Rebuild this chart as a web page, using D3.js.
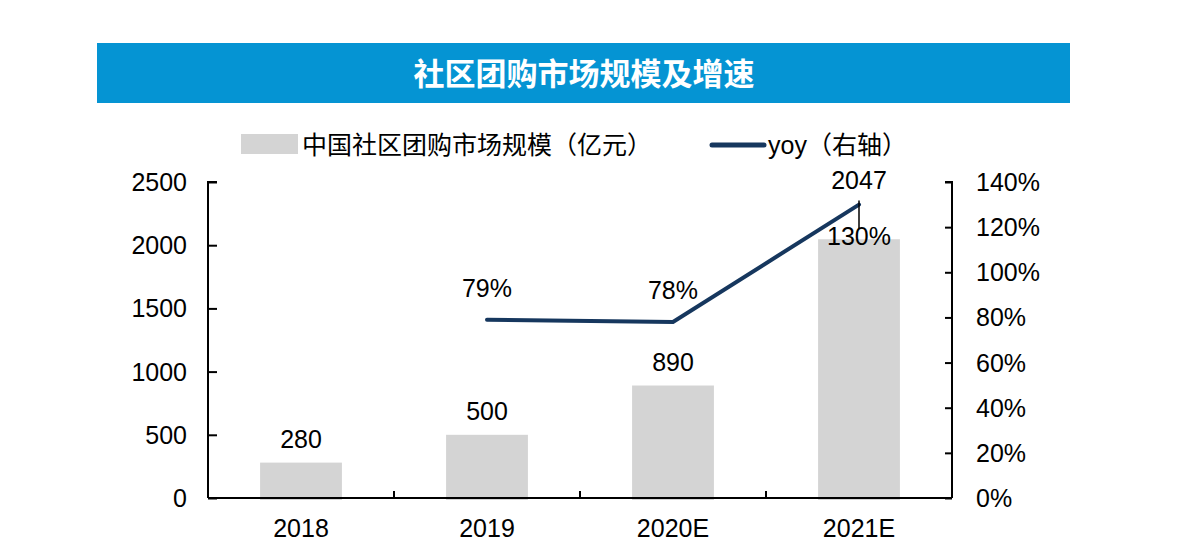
<!DOCTYPE html>
<html>
<head>
<meta charset="utf-8">
<script src="https://cdn.jsdelivr.net/npm/d3@7"></script>
<style>
  body { margin: 0; background: #fff; }
  svg text { font-family: "Liberation Sans", Arial, "Noto Sans CJK SC", sans-serif; fill: #000; }
</style>
</head>
<body>
<div id="chart"></div>
<script>
// Chart data
const years = ['2018', '2019', '2020E', '2021E'];
const marketSize = [280, 500, 890, 2047];          // 亿元
const yoy = [null, 0.79, 0.78, 1.30];              // right axis
const leftTicks = [0, 500, 1000, 1500, 2000, 2500];
const rightTicks = [0, 0.2, 0.4, 0.6, 0.8, 1.0, 1.2, 1.4];

const width = 1178, height = 555;
const margin = { left: 208, right: 226, top: 182, bottom: 57 };
const x0 = margin.left, x1 = width - margin.right;
const yTop = margin.top, yBot = height - margin.bottom;

const svg = d3.select('#chart')
    .append('svg')
    .attr('width', width)
    .attr('height', height);

// Title banner
svg.append('rect')
    .attr('x', 97).attr('y', 43)
    .attr('width', 973).attr('height', 60)
    .attr('fill', '#0594d3');
svg.append('text')
    .attr('x', 584).attr('y', 85)
    .attr('text-anchor', 'middle')
    .style('font-family', '"Noto Sans CJK SC", sans-serif')
    .style('font-size', '31px')
    .style('font-weight', 'bold')
    .style('fill', '#fff')
    .text('社区团购市场规模及增速');

// Scales
const x = d3.scaleBand().domain(years).range([x0, x1]).paddingInner(0.56).paddingOuter(0.28);
const xb = d3.scaleBand().domain(years).range([x0, x1]);
const yL = d3.scaleLinear().domain([0, 2500]).range([yBot, yTop]);
const yR = d3.scaleLinear().domain([0, 1.4]).range([yBot, yTop]);

// Bars
svg.append('g')
    .selectAll('rect')
    .data(marketSize)
    .enter()
    .append('rect')
    .attr('x', (d, i) => x(years[i]))
    .attr('y', d => yL(d))
    .attr('width', x.bandwidth())
    .attr('height', d => yBot + 2 - yL(d))
    .attr('fill', '#d4d4d4');

// Axes
const fontSize = '25px';
const leftAxis = svg.append('g')
    .attr('transform', `translate(${x0},0)`)
    .call(d3.axisRight(yL).tickValues(leftTicks).tickSize(9).tickFormat(''));
leftAxis.select('.domain').attr('d', `M9,${yTop}H0V${yBot}`);
svg.append('g')
    .selectAll('text')
    .data(leftTicks)
    .enter()
    .append('text')
    .attr('x', 187)
    .attr('y', d => yL(d) + 9)
    .attr('text-anchor', 'end')
    .style('font-size', fontSize)
    .text(d => d);

const rightAxis = svg.append('g')
    .attr('transform', `translate(${x1},0)`)
    .call(d3.axisLeft(yR).tickValues(rightTicks).tickSize(7).tickFormat(''));
rightAxis.select('.domain').attr('d', `M-7,${yTop}H0V${yBot}`);
svg.append('g')
    .selectAll('text')
    .data(rightTicks)
    .enter()
    .append('text')
    .attr('x', 976)
    .attr('y', d => yR(d) + 9)
    .attr('text-anchor', 'start')
    .style('font-size', fontSize)
    .text(d => d3.format('.0%')(d));

const bottomAxis = svg.append('g')
    .attr('transform', `translate(0,${yBot})`)
    .call(d3.axisBottom(xb).tickSize(0).tickFormat(''));
bottomAxis.select('.domain').attr('d', `M${x0},0H${x1}`);
bottomAxis.selectAll('.tick').remove();
bottomAxis.selectAll('line.sep')
    .data(years.slice(1))
    .enter()
    .append('line')
    .attr('class', 'sep')
    .attr('x1', d => xb(d)).attr('x2', d => xb(d))
    .attr('y1', 0).attr('y2', -7)
    .attr('stroke', '#000');
svg.selectAll('.domain, .tick line').attr('stroke', '#000').attr('stroke-width', 2);
svg.selectAll('line.sep').attr('stroke-width', 2);

svg.append('g')
    .selectAll('text')
    .data(years)
    .enter()
    .append('text')
    .attr('x', d => xb(d) + xb.bandwidth() / 2)
    .attr('y', yBot + 39)
    .attr('text-anchor', 'middle')
    .style('font-size', fontSize)
    .text(d => d);

// YoY line
const cx = d => xb(d) + xb.bandwidth() / 2;
const lineData = years.map((d, i) => ({ year: d, v: yoy[i] })).filter(d => d.v !== null);
svg.append('path')
    .datum(lineData)
    .attr('fill', 'none')
    .attr('stroke', '#16375e')
    .attr('stroke-width', 4)
    .attr('stroke-linecap', 'round')
    .attr('d', d3.line().x(d => cx(d.year)).y(d => yR(d.v)));

// Bar value labels
const barLabelY = (d, i) => i === 3 ? yL(d) - 50 : yL(d) - 15;
svg.append('g')
    .selectAll('text')
    .data(marketSize)
    .enter()
    .append('text')
    .attr('x', (d, i) => cx(years[i]))
    .attr('y', barLabelY)
    .attr('text-anchor', 'middle')
    .style('font-size', fontSize)
    .text(d => d);

// Leader line for the 2021E bar label
svg.append('line')
    .attr('x1', cx(years[3])).attr('x2', cx(years[3]))
    .attr('y1', yR(yoy[3]) - 4).attr('y2', yR(yoy[3]) + 24)
    .attr('stroke', '#000')
    .attr('stroke-width', 1.5);

// YoY labels
svg.append('g')
    .selectAll('text')
    .data(lineData)
    .enter()
    .append('text')
    .attr('x', d => cx(d.year))
    .attr('y', d => d.year === '2021E' ? yR(d.v) + 40 : yR(d.v) - 23)
    .attr('text-anchor', 'middle')
    .style('font-size', fontSize)
    .text(d => d3.format('.0%')(d.v));

// Legend
svg.append('rect')
    .attr('x', 241).attr('y', 134)
    .attr('width', 57).attr('height', 20)
    .attr('fill', '#d4d4d4');
svg.append('text')
    .attr('x', 302).attr('y', 154)
    .style('font-size', fontSize)
    .text('中国社区团购市场规模（亿元）');
svg.append('line')
    .attr('x1', 712).attr('x2', 764)
    .attr('y1', 145).attr('y2', 145)
    .attr('stroke', '#16375e')
    .attr('stroke-width', 5)
    .attr('stroke-linecap', 'round');
svg.append('text')
    .attr('x', 768).attr('y', 154)
    .style('font-size', fontSize)
    .text('yoy（右轴）');
</script>
</body>
</html>
